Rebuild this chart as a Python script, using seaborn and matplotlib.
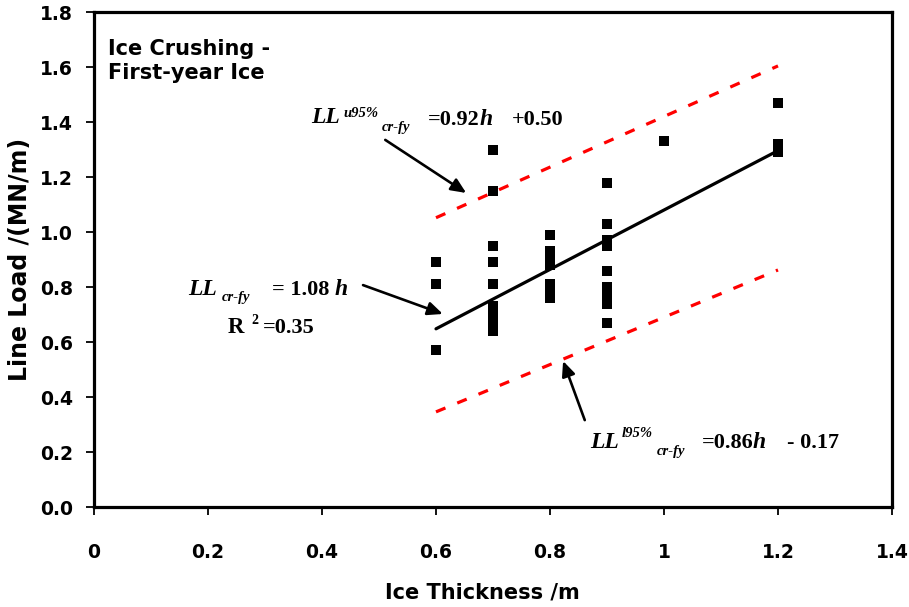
import numpy as np
import pandas as pd
import matplotlib
matplotlib.use("Agg")
import matplotlib.pyplot as plt
import seaborn as sns

# measured line loads (MN/m) grouped by ice thickness (m)
thickness = [0.6, 0.6, 0.6,
             0.7, 0.7, 0.7, 0.7, 0.7, 0.7, 0.7, 0.7, 0.7,
             0.8, 0.8, 0.8, 0.8, 0.8, 0.8, 0.8,
             0.9, 0.9, 0.9, 0.9, 0.9, 0.9, 0.9, 0.9, 0.9,
             1.0,
             1.2, 1.2, 1.2]
line_load = [0.89, 0.81, 0.57,
             1.30, 1.15, 0.95, 0.89, 0.81, 0.73, 0.70, 0.67, 0.64,
             0.99, 0.93, 0.91, 0.88, 0.81, 0.79, 0.76,
             1.18, 1.03, 0.97, 0.95, 0.86, 0.80, 0.77, 0.74, 0.67,
             1.33,
             1.47, 1.32, 1.29]

# fitted lines shown on the chart: slope, intercept, range of h
fit_range = [0.6, 1.2]
mean_fit = (1.08, 0.0)
upper_fit = (0.92, 0.50)
lower_fit = (0.86, -0.17)

df = pd.DataFrame({"h": thickness, "LL": line_load})

sns.set_style("ticks")
plt.rcParams["font.family"] = ["DejaVu Sans"]
plt.rcParams["text.color"] = "black"
plt.rcParams["axes.labelcolor"] = "black"
plt.rcParams["xtick.color"] = "black"
plt.rcParams["ytick.color"] = "black"

fig = plt.figure(figsize=(9.09, 6.07), dpi=100)
ax = fig.add_axes([0.1034, 0.1647, 0.8779, 0.8155])

sns.scatterplot(data=df, x="h", y="LL", marker="s", color="black",
                s=62, linewidth=0, ax=ax, zorder=3)

h = np.array(fit_range)
ax.plot(h, mean_fit[0] * h + mean_fit[1], color="black", lw=2.3, zorder=4)
for slope, icpt in (upper_fit, lower_fit):
    ax.plot(h, slope * h + icpt, color="#ff0000", lw=2.3,
            linestyle=(0, (3.2, 4.0)), zorder=2)

ax.set_xlim(0, 1.4)
ax.set_ylim(0, 1.8)
ax.set_xticks(np.arange(0, 1.41, 0.2))
ax.set_xticklabels(["0", "0.2", "0.4", "0.6", "0.8", "1", "1.2", "1.4"])
ax.set_yticks(np.arange(0, 1.81, 0.2))
ax.set_yticklabels(["%.1f" % v for v in np.arange(0, 1.81, 0.2)])

for sp in ax.spines.values():
    sp.set_visible(True)
    sp.set_linewidth(2.3)
    sp.set_color("black")
ax.tick_params(axis="both", direction="out", length=6, width=1.3,
               color="black", labelcolor="black", labelsize=13.5)
ax.tick_params(axis="x", pad=20)
ax.tick_params(axis="y", pad=9)
for lab in ax.get_xticklabels() + ax.get_yticklabels():
    lab.set_fontweight("bold")

ax.set_xlabel("Ice Thickness /m", fontsize=15, fontweight="bold")
ax.set_ylabel("Line Load /(MN/m)", fontsize=17, fontweight="bold", labelpad=6)
ax.xaxis.set_label_coords(0.487, -0.153)

ax.text(0.018, 0.945, "Ice Crushing -\nFirst-year Ice", transform=ax.transAxes,
        fontsize=15, fontweight="bold", va="top", ha="left", linespacing=1.25)

serif = "Liberation Serif"


def piece(x, y, s, size=16, italic=False):
    ax.text(x, y, s, fontsize=size, family=serif, fontweight="bold",
            style="italic" if italic else "normal", va="baseline", ha="left",
            color="black", zorder=5)


# upper 95% bound label
piece(0.381, 1.396, "LL", size=17, italic=True)
piece(0.437, 1.420, "u95%", size=10.5, italic=True)
piece(0.505, 1.368, "cr-fy", size=10.5, italic=True)
piece(0.586, 1.389, "=0.92")
piece(0.677, 1.389, "h", size=17, italic=True)
piece(0.733, 1.389, "+0.50")

# mean fit label
piece(0.165, 0.771, "LL", size=17, italic=True)
piece(0.225, 0.750, "cr-fy", size=10.5, italic=True)
piece(0.312, 0.771, "= 1.08")
piece(0.422, 0.771, "h", size=17, italic=True)
piece(0.235, 0.633, "R", size=16.5)
piece(0.276, 0.665, "2", size=10)
piece(0.296, 0.633, "=0.35")

# lower 95% bound label
piece(0.870, 0.215, "LL", size=17, italic=True)
piece(0.926, 0.255, "l95%", size=10.5, italic=True)
piece(0.988, 0.189, "cr-fy", size=10.5, italic=True)
piece(1.067, 0.215, "=0.86")
piece(1.156, 0.215, "h", size=17, italic=True)
piece(1.216, 0.215, "- 0.17")

arrow = dict(arrowstyle="-|>,head_length=0.9,head_width=0.4",
             color="black", lw=1.9, shrinkA=0, shrinkB=0)
ax.annotate("", xy=(0.653, 1.142), xytext=(0.511, 1.335), arrowprops=arrow)
ax.annotate("", xy=(0.612, 0.702), xytext=(0.472, 0.807), arrowprops=arrow)
ax.annotate("", xy=(0.823, 0.531), xytext=(0.861, 0.316), arrowprops=arrow)

fig.savefig("out.png", dpi=100)
